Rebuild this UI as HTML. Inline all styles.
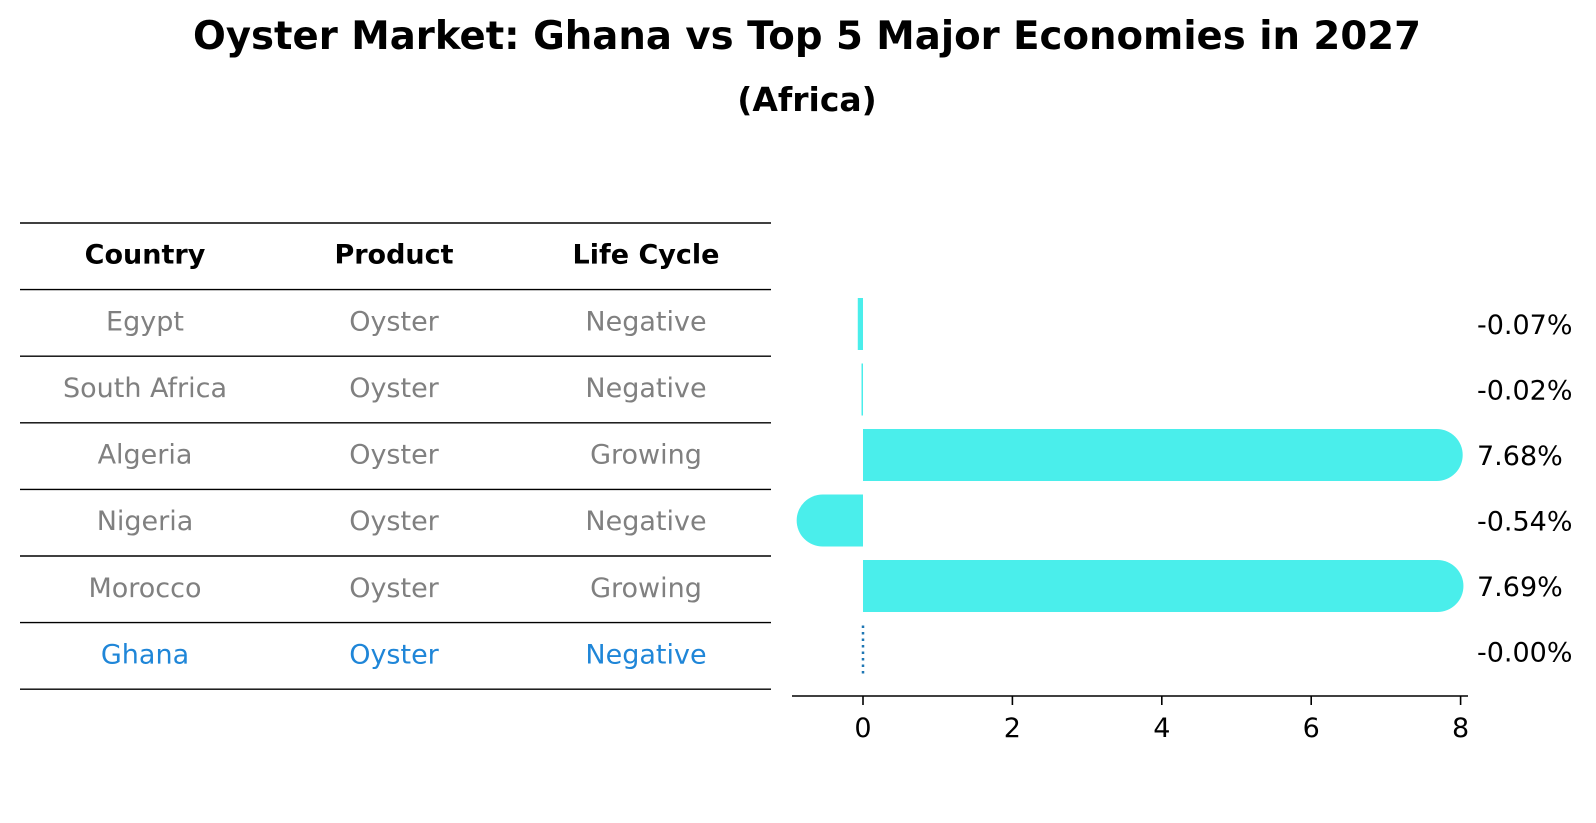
<!DOCTYPE html>
<html><head><meta charset="utf-8"><style>
html,body{margin:0;padding:0;background:#fff;}
svg{display:block;font-family:"DejaVu Sans","Liberation Sans",sans-serif;}
</style></head><body>
<svg id="chart" width="1596" height="823" viewBox="0 0 1596 823" xmlns="http://www.w3.org/2000/svg">
  <text x="807" y="49" text-anchor="middle" font-size="39" font-weight="bold" textLength="1228" lengthAdjust="spacingAndGlyphs">Oyster Market: Ghana vs Top 5 Major Economies in 2027</text>
  <text x="807" y="111" text-anchor="middle" font-size="33" font-weight="bold">(Africa)</text>
  <g id="table"></g>
  <g id="bars"></g>
</svg>
<script>
const countries = ["Egypt","South Africa","Algeria","Nigeria","Morocco","Ghana"];
const products = ["Oyster","Oyster","Oyster","Oyster","Oyster","Oyster"];
const lifeCycles = ["Negative","Negative","Growing","Negative","Growing","Negative"];
const growthValues = [-0.07,-0.02,7.68,-0.54,7.69,-0.00];
const valueLabels = ["-0.07%","-0.02%","7.68%","-0.54%","7.69%","-0.00%"];
const xTicks = [0,2,4,6,8];

const NS = "http://www.w3.org/2000/svg";
function mk(tag, attrs, parent){const e=document.createElementNS(NS,tag);for(const k in attrs)e.setAttribute(k,attrs[k]);parent.appendChild(e);return e;}

// table
const tbl = document.getElementById('table');
const lineYs0 = 223, rowH = 66.6, colX = [145,394,646];
for(let i=0;i<=countries.length+1;i++){
  const y = lineYs0 + i*rowH;
  const l = mk('line',{x1:20,x2:771,y1:y,y2:y,stroke:'#000','stroke-width':1.4},tbl);
  
  
}
const headers = ["Country","Product","Life Cycle"];
headers.forEach((h,j)=>{
  const t = mk('text',{x:colX[j],y:lineYs0+rowH/2+7,'text-anchor':'middle','font-size':27,'font-weight':'bold'},tbl);
  t.textContent = h;
  
  
});
countries.forEach((c,i)=>{
  const vals=[c,products[i],lifeCycles[i]];
  const color = i===countries.length-1 ? '#1f86d8' : '#808080';
  vals.forEach((v,j)=>{
    const t = mk('text',{x:colX[j],y:lineYs0+rowH*(i+1)+rowH/2+7.5,'text-anchor':'middle','font-size':27,fill:color},tbl);
    t.textContent = v;
    
    
  });
});

// bar chart
const g = document.getElementById('bars');
const x0px = 863, pxPerUnit = 74.7;
const xScale = v => x0px + v*pxPerUnit;
const yTop = 298, pitch = 65.5, barH = 52;
const yCenter = i => yTop + barH/2 + i*pitch;
const axisY = 696;
const ax = mk('line',{x1:792,x2:1468,y1:axisY,y2:axisY,stroke:'#000','stroke-width':1.6},g);


xTicks.forEach(t=>{
  const x=xScale(t);
  const tk = mk('line',{x1:x,x2:x,y1:axisY,y2:axisY+9,stroke:'#000','stroke-width':1.6},g);
  
  
  const tl = mk('text',{x:x,y:axisY+41,'text-anchor':'middle','font-size':27},g);
  tl.textContent = t;
  
  
});
growthValues.forEach((v,i)=>{
  const cy = yCenter(i);
  const last = i===growthValues.length-1;
  if(last){
    const d = mk('line',{x1:xScale(0),x2:xScale(0),y1:cy-barH/2,y2:cy+barH/2,stroke:'#1f77b4','stroke-width':2.5,'stroke-dasharray':'2.5,4'},g);
    
    
  } else {
    const xa = Math.min(xScale(0),xScale(v)), xb = Math.max(xScale(0),xScale(v));
    const r = mk('rect',{x:xa,y:cy-barH/2,width:Math.max(xb-xa,1.2),height:barH,fill:'#4aeeeb'},g);
    
    
    if(Math.abs(v)>0.3){
      const c = mk('circle',{cx:xScale(v),cy:cy,r:barH/2,fill:'#4aeeeb'},g);
      
      
    }
  }
  const lb = mk('text',{x:1477,y:cy+10,'font-size':27},g);
  lb.textContent = valueLabels[i];
  
  
});
</script>
</body></html>
